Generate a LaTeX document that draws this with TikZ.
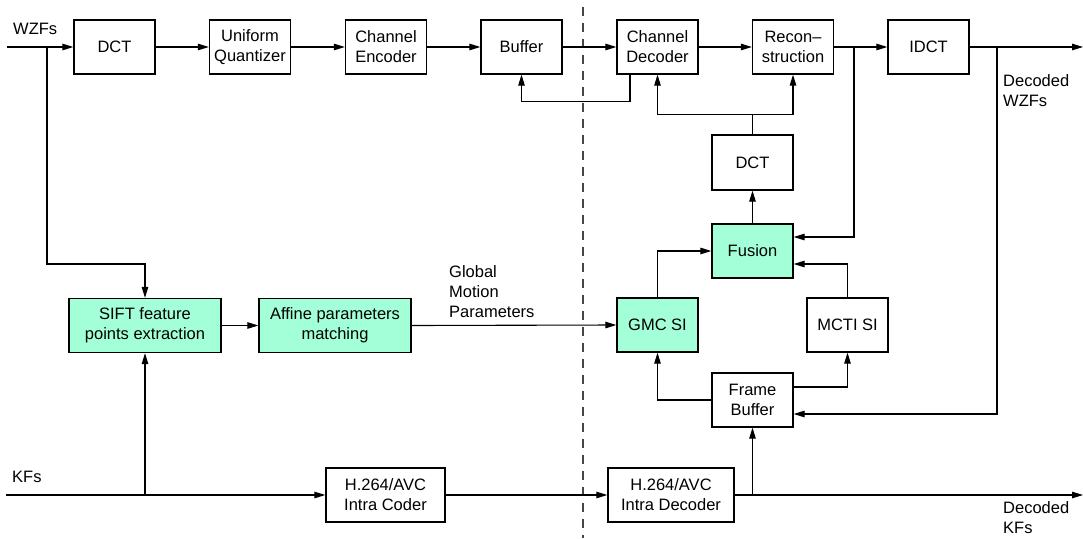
\documentclass[tikz,border=0pt]{standalone}
\usepackage{fontspec}
\setmainfont{Liberation Sans}
\usetikzlibrary{arrows.meta,calc}
\definecolor{aqua}{RGB}{163,255,215}
\definecolor{dashgray}{RGB}{70,70,70}
\begin{document}
\begin{tikzpicture}[x=1pt,y=-1pt,
  every node/.style={font=\fontsize{16.5}{20}\selectfont},
  blk/.style={draw, line width=1.3pt, minimum width=81pt, minimum height=54pt, align=center, inner sep=0pt},
  wideblk/.style={blk, minimum width=152pt},
  green/.style={fill=aqua},
  wire/.style={line width=1.1pt},
  arr/.style={wire, -{Triangle[length=11pt,width=6.5pt]}},
  lbl/.style={align=left, inner sep=0pt, anchor=west}
]
\useasboundingbox (0,0) rectangle (1083,538);
\draw[dashgray, line width=1.4pt, dash pattern=on 9pt off 7pt] (583,7) -- (583,538);
% top chain
\node[blk] (DCT) at (114.5,47) {DCT};
\node[blk] (UQ) at (250,47) {Uniform\\Quantizer};
\node[blk] (CE) at (386,47) {Channel\\Encoder};
\node[blk] (Buf) at (521.5,47) {Buffer};
\node[blk] (CD) at (657.5,47) {Channel\\Decoder};
\node[blk] (Rec) at (793,47) {Recon--\\struction};
\node[blk] (IDCT) at (928.5,47) {IDCT};
% decoder side
\node[blk, minimum height=55pt] (DCT2) at (752.5,162.5) {DCT};
\node[blk, green] (Fus) at (752.5,251) {Fusion};
\node[blk, green] (GMC) at (657.5,325) {GMC SI};
\node[blk] (MCTI) at (847.5,325) {MCTI SI};
\node[blk] (FB) at (752.5,400) {Frame\\Buffer};
% encoder side
\node[wideblk, green] (SIFT) at (145,325.5) {SIFT feature\\points extraction};
\node[wideblk, green] (Aff) at (335,325.5) {Affine parameters\\matching};
\node[blk, minimum width=119pt] (Cod) at (385.5,495) {H.264/AVC\\Intra Coder};
\node[blk, minimum width=126pt] (Dec) at (671,495) {H.264/AVC\\Intra Decoder};
% coordinates
\coordinate (win) at (7,47);
\coordinate (b0) at (47,47);
\coordinate (b1) at (854,47);
\coordinate (b2) at (997,47);
\coordinate (wout) at (1083,47);
\coordinate (kin) at (6,495);
\coordinate (kout) at (1083,495);
% labels
\node[lbl] (lw) at (13,29) {WZFs};
\node[lbl] (lk) at (12,477) {KFs};
\node[lbl] (lg) at (449,292) {Global\\Motion\\Parameters};
\node[lbl] (ldw) at (1003,91) {Decoded\\WZFs};
\node[lbl] (ldk) at (1003,518) {Decoded\\KFs};
% top connectors
\draw[arr] (win) -- (DCT.west);
\draw[arr] (DCT) -- (UQ);
\draw[arr] (UQ) -- (CE);
\draw[arr] (CE) -- (Buf);
\draw[arr] (Buf) -- (CD);
\draw[arr] (CD) -- (Rec);
\draw[arr] (Rec) -- (IDCT);
\draw[arr] (IDCT.east) -- (wout);
\draw[arr] ([xshift=-27.5pt]CD.south) -- ++(0,27) -| (Buf.south);
\draw[wire] (DCT2.north) -- ++(0,-20) coordinate (j1);
\draw[arr] (j1) -| (CD.south);
\draw[arr] (j1) -| (Rec.south);
% fusion inputs
\draw[arr] (b1) |- ([yshift=14pt]Fus.east);
\draw[arr] (MCTI.north) |- ([yshift=-13pt]Fus.east);
\draw[arr] (GMC.north) |- (Fus.west);
\draw[arr] (Fus) -- (DCT2);
% frame buffer
\draw[arr] (FB.west) -| (GMC.south);
\draw[arr] ([yshift=13pt]FB.east) -| (MCTI.south);
\draw[arr] (b2) |- ([yshift=-14pt]FB.east);
\draw[arr] (FB.south |- Dec.east) -- (FB.south);
% bottom
\draw[arr] (kin) -- (Cod.west);
\draw[arr] (Cod) -- (Dec);
\draw[arr] (Dec.east) -- (kout);
\draw[arr] (SIFT.south |- Cod.west) -- (SIFT.south);
% left side
\draw[arr] (b0) -- (47,264) -| (SIFT.north);
\draw[arr] (SIFT) -- (Aff);
\draw[arr] (Aff.east) -- (GMC.west);
\end{tikzpicture}
\end{document}
